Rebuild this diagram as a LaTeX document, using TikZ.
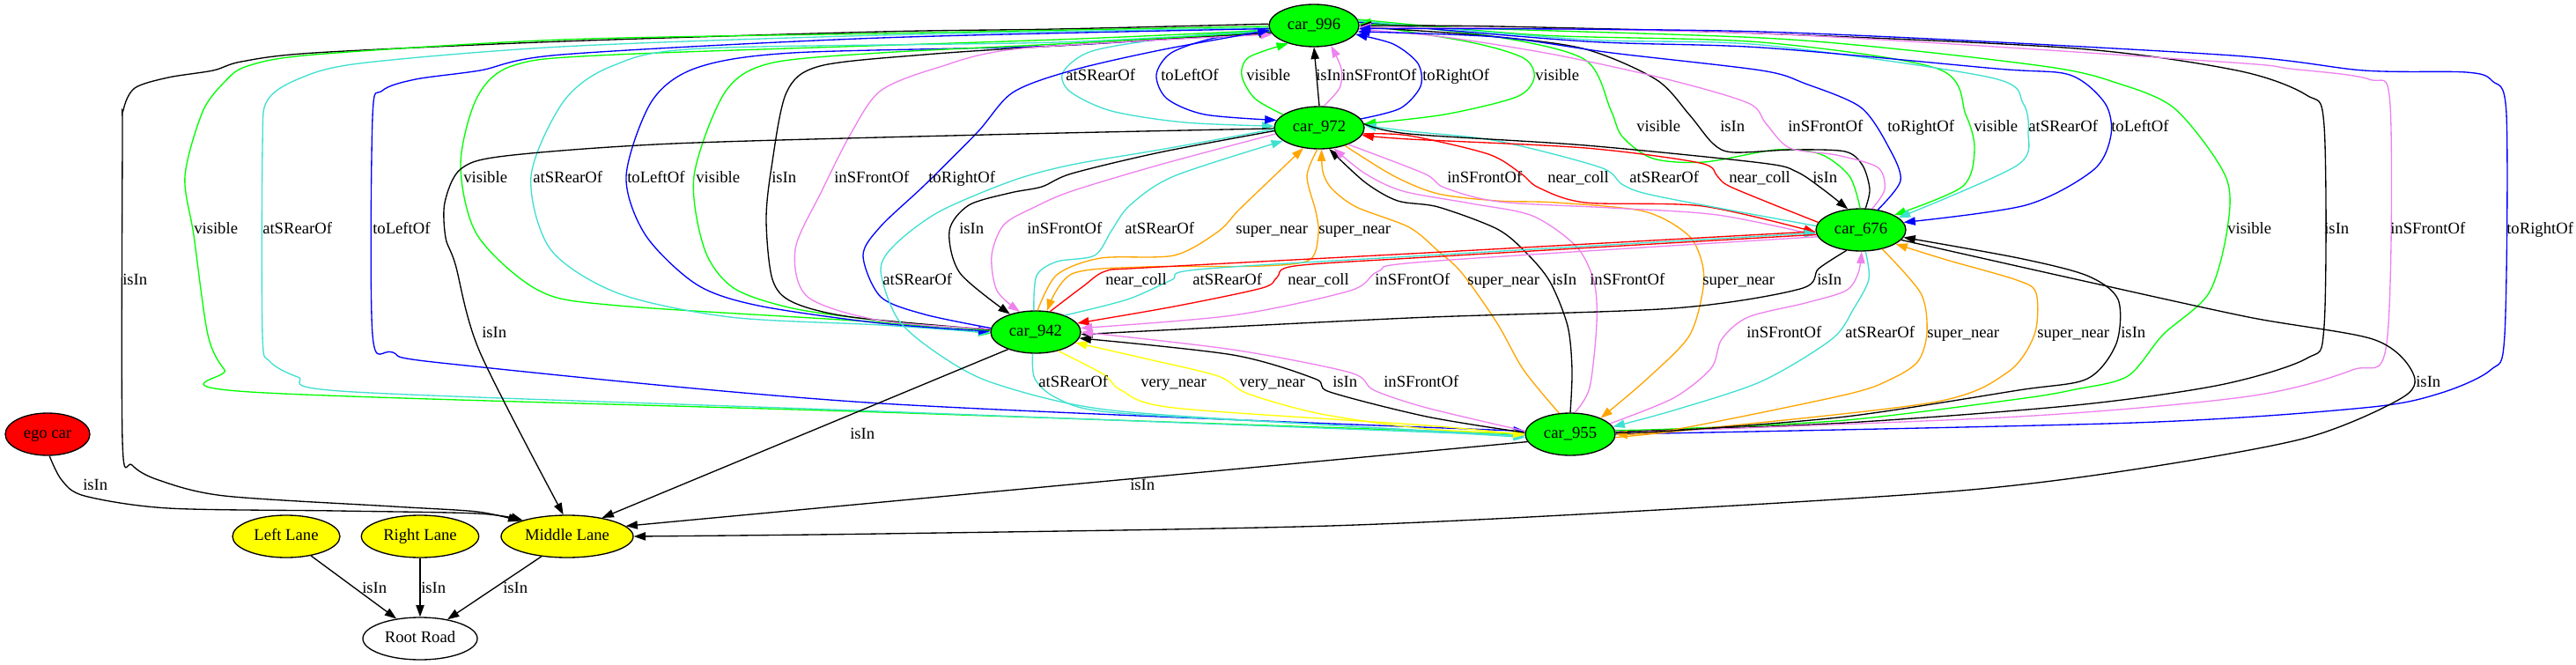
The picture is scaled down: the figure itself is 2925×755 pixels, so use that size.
\documentclass[tikz,border=0pt]{standalone}
\usepackage{fontspec}
\setmainfont{Liberation Serif}
\usetikzlibrary{shapes.geometric,arrows.meta}
\definecolor{turq}{HTML}{40E0D0}
\definecolor{viol}{HTML}{EE82EE}
\definecolor{orng}{HTML}{FFA500}
\definecolor{gr}{HTML}{00FF00}
\definecolor{ye}{HTML}{FFFF00}
\definecolor{bl}{HTML}{0000FF}
\definecolor{rd}{HTML}{FF0000}
\newcommand\edg[2]{\draw[#1] plot[smooth] coordinates {#2};}
\newcommand\elab[4]{\node[lbl] (#1) at (#2,#3) {#4};}
\begin{document}
\begin{tikzpicture}[x=0.75pt,y=-0.75pt,font=\fontsize{14}{16}\selectfont,
  e/.style={line width=1pt,-{Triangle[length=10pt,width=7pt]}},
  nd/.style={ellipse,draw=black,line width=1pt,inner sep=0pt,minimum height=36pt,text height=0.68em,text depth=0pt},
  car/.style={nd,fill=gr,minimum width=76.5pt},
  lane/.style={nd,fill=ye},
  lbl/.style={anchor=base west,inner sep=0pt}]
\useasboundingbox (0,0) rectangle (2925,755);
% nodes
\node[car] (c996) at (1492,29) {car\_996};
\node[car] (c972) at (1498,145) {car\_972};
\node[car] (c676) at (2113,261) {car\_676};
\node[car] (c942) at (1176,377) {car\_942};
\node[car] (c955) at (1783,493) {car\_955};
\node[nd,fill=rd,minimum width=72pt] (ego) at (54,493) {ego car};
\node[lane,minimum width=91.5pt] (ll) at (325,609) {Left Lane};
\node[lane,minimum width=100pt] (rl) at (477,609) {Right Lane};
\node[lane,minimum width=112.5pt] (ml) at (644,609) {Middle Lane};
\node[nd,fill=white,minimum width=97.5pt] (rr) at (477,725) {Root Road};
% 996 - 972
\edg{e,turq}{(c996.185) (1330,43) (1240,58) (1207,82) (1215,104) (1262,126) (1345,139) (c972.178)}
\edg{e,bl}{(c996.190) (1380,43) (1330,60) (1313,85) (1325,112) (1368,130) (c972.170)}
\edg{e,gr}{(c972.160) (1425,112) (1410,86) (1418,65) (c996.215)}
\draw[e] (c972.90) -- (c996.270);
\edg{e,viol}{(c972.78) (1521,100) (1523,78) (c996.310)}
\edg{e,bl}{(c972.12) (1590,123) (1613,98) (1610,72) (1582,50) (c996.348)}
\edg{e,gr}{(c996.2) (1670,48) (1730,66) (1742,88) (1722,110) (1640,130) (c972.5)}
% 996 - 676
\edg{e,gr}{(c676.92) (2100,200) (2067,175) (2017,170) (1935,184) (1877,180) (1842,155) (1829,125) (1800,68) (1700,42) (c996.5)}
\edg{e}{(c676.78) (2123,215) (2115,188) (2095,172) (2035,170) (1968,173) (1945,163) (1918,130) (1880,90) (1797,55) (1680,40) (c996.358)}
\edg{e,viol}{(c676.62) (2140,215) (2132,190) (2085,176) (2032,168) (2005,140) (1985,117) (1893,90) (1765,62) (1640,42) (c996.355)}
\edg{e,bl}{(c676.50) (2158,205) (2145,168) (2113,122) (2050,95) (2000,80) (1830,60) (1700,42) (c996.352)}
\edg{e,gr}{(c996.8) (1750,40) (2000,48) (2200,78) (2232,130) (2242,170) (2228,212) (c676.24)}
\edg{e,turq}{(c996.6) (1800,45) (2000,51) (2260,88) (2297,117) (2303,150) (2290,188) (c676.18)}
\edg{e,bl}{(c996.4) (1800,47) (2000,54) (2267,78) (2350,85) (2390,117) (2397,153) (2377,193) (2300,233) (c676.10)}
% 996 - 955 right loops
\edg{e,gr}{(c955.5) (1900,487) (2096,477) (2292,453) (2357,442) (2416,427) (2456,380) (2508,333) (2529,260) (2527,200) (2469,123) (2400,93) (2333,77) (2167,57) (2000,43) (1700,33) (c996.2)}
\edg{e}{(c955.3) (2096,480) (2357,460) (2521,437) (2619,407) (2639,370) (2639,143) (2619,108) (2540,80) (2357,55) (2000,38) (1700,30) (c996.0)}
\edg{e,viol}{(c955.2) (2292,473) (2553,450) (2671,420) (2710,390) (2714,120) (2690,90) (2600,78) (2520,70) (2000,38) (c996.358)}
\edg{e,bl}{(c955.0) (2423,480) (2684,463) (2769,447) (2828,420) (2844,380) (2846,130) (2830,92) (2800,82) (2684,80) (2520,62) (2000,36) (c996.356)}
% 996 far left loops
\edg{e}{(c996.178) (1200,33) (1000,36) (638,47) (357,60) (274,70) (242,80) (191,88) (153,100) (140,125) (139,160) (139,500) (150,528) (180,545) (255,563) (446,575) (542,581) (ml.162)}
\edg{e,gr}{(c996.181) (1000,38) (638,45) (357,62) (281,75) (255,93) (230,127) (210,200) (220,267) (236,380) (255,420) (284,445) (1000,468) (c955.180)}
\edg{e,turq}{(c996.183) (1000,40) (638,53) (408,72) (338,90) (303,115) (298,167) (298,380) (306,410) (338,428) (402,445) (1000,467) (c955.182)}
\edg{e,bl}{(c996.184) (1000,43) (638,62) (545,80) (472,90) (434,103) (423,133) (423,380) (446,400) (510,413) (1000,458) (c955.176)}
% 996 - 942 loops
\edg{e,gr}{(c996.186) (1200,45) (700,62) (584,74) (542,110) (523,187) (542,267) (612,330) (702,347) (1000,366) (c942.182)}
\edg{e,turq}{(c996.187) (1200,48) (797,55) (695,75) (640,115) (603,200) (625,283) (702,333) (829,360) (1000,369) (c942.181)}
\edg{e,bl}{(c996.188) (1200,52) (900,60) (791,77) (740,115) (711,200) (733,267) (791,323) (861,347) (1000,367) (c942.179)}
\edg{e,gr}{(c942.178) (1000,364) (900,350) (833,327) (800,283) (788,200) (823,105) (874,72) (1000,60) (1200,50) (c996.189)}
\edg{e}{(c942.177) (967,360) (900,343) (877,317) (870,250) (876,190) (893,105) (931,75) (1050,62) (1200,52) (c996.190)}
\edg{e,viol}{(c942.176) (1000,364) (917,337) (903,283) (933,217) (967,150) (1000,103) (1064,77) (1160,55) (c996.192)}
\edg{e,bl}{(c942.175) (1050,357) (1000,337) (980,290) (1000,257) (1050,210) (1110,150) (1150,105) (1217,80) (1317,57) (c996.186)}
% 972 -> Middle Lane
\edg{e}{(c972.181) (1120,153) (765,163) (574,177) (523,192) (505,230) (506,270) (517,300) (545,400) (ml.100)}
% 972 - 942
\edg{e}{(c972.184) (1317,173) (1217,197) (1183,212) (1147,219) (1100,233) (1078,262) (1090,310) (c942.145)}
\edg{e,viol}{(c972.188) (1317,187) (1217,217) (1175,235) (1140,255) (1126,290) (1132,330) (c942.128)}
\edg{e,turq}{(c942.95) (1177,313) (1200,297) (1243,290) (1262,262) (1283,233) (1333,200) (c972.200)}
\edg{e,orng}{(c942.85) (1200,312) (1250,293) (1333,290) (1383,263) (1405,240) (1433,213) (c972.232)}
\edg{e,orng}{(c972.265) (1484,200) (1494,240) (1497,265) (1487,295) (1433,302) (1300,303) (1217,311) (c942.62)}
% 972 - 955
\edg{e,turq}{(c972.182) (1317,170) (1217,187) (1150,205) (1067,240) (1017,277) (1000,307) (1020,363) (1067,403) (1128,435) (1255,465) (1500,482) (c955.182)}
\edg{e,orng}{(c972.325) (1583,200) (1633,220) (1700,228) (1767,230) (1867,240) (1917,267) (1933,300) (1933,333) (1917,383) (1867,433) (c955.28)}
\edg{e,orng}{(c955.118) (1730,420) (1700,367) (1660,310) (1633,285) (1600,258) (1540,235) (1512,214) (1502,195) (c972.276)}
\edg{e}{(c955.90) (1785,420) (1780,370) (1760,320) (1733,287) (1700,260) (1633,235) (1587,228) (1550,207) (c972.295)}
\edg{e,viol}{(c955.78) (1805,440) (1813,367) (1810,320) (1790,280) (1740,245) (1670,231) (1593,217) (1550,197) (c972.305)}
% 972 - 676
\edg{e,viol}{(c972.330) (1617,197) (1640,213) (1702,229) (1829,236) (1950,244) (c676.187)}
\edg{e,rd}{(c972.352) (1600,154) (1690,175) (1727,197) (1747,213) (1800,230) (1933,234) (c676.183)}
\edg{e,turq}{(c676.175) (1883,223) (1843,210) (1817,190) (1700,160) (1600,149) (c972.3)}
\edg{e,rd}{(c676.170) (1967,213) (1950,200) (1930,185) (1800,168) (1600,158) (c972.350)}
\edg{e}{(c972.5) (1600,152) (1800,165) (2000,185) (2040,195) (2070,215) (c676.122)}
% 942 - 676
\edg{e,rd}{(c942.55) (1230,325) (1255,308) (1300,304) (1620,287) (c676.182)}
\edg{e,turq}{(c942.30) (1280,340) (1330,318) (1360,306) (1620,290) (c676.184)}
\edg{e,rd}{(c676.186) (1620,292) (1470,302) (1450,315) (1433,327) (1333,348) (c942.12)}
\edg{e,viol}{(c676.189) (1620,297) (1565,308) (1533,330) (1400,358) (c942.5)}
\edg{e}{(c676.235) (2065,305) (2044,328) (1900,350) (1600,361) (c942.357)}
% 942 - 955
\edg{e,turq}{(c942.262) (1175,430) (1200,452) (1260,468) (1500,482) (c955.184)}
\edg{e,ye}{(c942.320) (1253,425) (1273,443) (1333,463) (1620,483) (c955.181)}
\edg{e,ye}{(c955.179) (1620,487) (1500,470) (1417,447) (1383,427) (1300,407) (c942.345)}
\edg{e}{(c955.178) (1620,473) (1510,445) (1493,430) (1400,403) (c942.352)}
\edg{e,viol}{(c955.176) (1620,463) (1560,443) (1533,423) (1400,397) (c942.0)}
% 955 - 676
\edg{e,viol}{(c955.15) (1900,452) (1943,418) (1955,385) (1985,360) (2050,344) (2096,330) (2110,310) (c676.272)}
\edg{e,turq}{(c676.282) (2122,317) (2105,350) (2080,385) (2000,433) (1900,466) (c955.10)}
\edg{e,orng}{(c676.318) (2181,333) (2188,377) (2178,410) (2148,430) (2096,448) (1900,488) (c955.0)}
\edg{e,orng}{(c955.356) (1900,490) (2194,457) (2279,423) (2310,380) (2312,333) (2290,318) (2210,295) (c676.338)}
\edg{e}{(c955.2) (1900,489) (2096,473) (2292,443) (2370,430) (2403,390) (2405,340) (2370,313) (2292,293) (c676.350)}
% 676 -> Middle Lane
\edg{e}{(c676.346) (2357,317) (2553,360) (2694,385) (2738,420) (2730,450) (2619,497) (2423,533) (2227,557) (1900,578) (1510,597) (1000,606) (ml.0)}
% others to Middle Lane
\edg{e}{(ego.275) (70,545) (96,563) (191,577) (383,580) (542,583) (ml.160)}
\draw[e] (c942.212) -- (ml.28);
\draw[e] (c955.190) -- (ml.10);
% lanes to road
\draw[e] (ll.322) -- (rr.140);
\draw[e] (rl.south) -- (rr.north);
\draw[e] (ml.218) -- (rr.35);
% labels
\elab{l1}{1210}{92}{atSRearOf}
\elab{l2}{1318}{92}{toLeftOf}
\elab{l3}{1415}{92}{visible}
\elab{l4}{1494}{92}{isIn}
\elab{l5}{1523}{92}{inSFrontOf}
\elab{l6}{1615}{92}{toRightOf}
\elab{l7}{1743}{92}{visible}
\elab{l8}{1858}{150}{visible}
\elab{l9}{1953}{150}{isIn}
\elab{l10}{2030}{150}{inSFrontOf}
\elab{l11}{2143}{150}{toRightOf}
\elab{l12}{2241}{150}{visible}
\elab{l13}{2303}{150}{atSRearOf}
\elab{l14}{2397}{150}{toLeftOf}
\elab{l15}{526}{208}{visible}
\elab{l16}{605}{208}{atSRearOf}
\elab{l17}{712}{208}{toLeftOf}
\elab{l18}{790}{208}{visible}
\elab{l19}{876}{208}{isIn}
\elab{l20}{947}{208}{inSFrontOf}
\elab{l21}{1054}{208}{toRightOf}
\elab{l22}{1643}{208}{inSFrontOf}
\elab{l23}{1757}{208}{near\_coll}
\elab{l24}{1850}{208}{atSRearOf}
\elab{l25}{1963}{208}{near\_coll}
\elab{l26}{2058}{208}{isIn}
\elab{l27}{220}{266}{visible}
\elab{l28}{298}{266}{atSRearOf}
\elab{l29}{423}{266}{toLeftOf}
\elab{l30}{1089}{266}{isIn}
\elab{l31}{1166}{266}{inSFrontOf}
\elab{l32}{1277}{266}{atSRearOf}
\elab{l33}{1403}{266}{super\_near}
\elab{l34}{1497}{266}{super\_near}
\elab{l35}{2529}{266}{visible}
\elab{l36}{2639}{266}{isIn}
\elab{l37}{2714}{266}{inSFrontOf}
\elab{l38}{2846}{266}{toRightOf}
\elab{l39}{139}{324}{isIn}
\elab{l40}{1002}{324}{atSRearOf}
\elab{l41}{1255}{324}{near\_coll}
\elab{l42}{1354}{324}{atSRearOf}
\elab{l43}{1462}{324}{near\_coll}
\elab{l44}{1561}{324}{inSFrontOf}
\elab{l45}{1666}{324}{super\_near}
\elab{l46}{1762}{324}{isIn}
\elab{l47}{1805}{324}{inSFrontOf}
\elab{l48}{1933}{324}{super\_near}
\elab{l49}{2063}{324}{isIn}
\elab{l50}{547}{383}{isIn}
\elab{l51}{1983}{383}{inSFrontOf}
\elab{l52}{2095}{383}{atSRearOf}
\elab{l53}{2188}{383}{super\_near}
\elab{l54}{2313}{383}{super\_near}
\elab{l55}{2408}{383}{isIn}
\elab{l56}{1179}{439}{atSRearOf}
\elab{l57}{1295}{439}{very\_near}
\elab{l58}{1407}{439}{very\_near}
\elab{l59}{1513}{439}{isIn}
\elab{l60}{1571}{439}{inSFrontOf}
\elab{l61}{2743}{439}{isIn}
\elab{l62}{965}{498}{isIn}
\elab{l63}{94}{556}{isIn}
\elab{l64}{1283}{556}{isIn}
\elab{l65}{411}{673}{isIn}
\elab{l66}{478}{673}{isIn}
\elab{l67}{571}{673}{isIn}
\end{tikzpicture}
\end{document}
